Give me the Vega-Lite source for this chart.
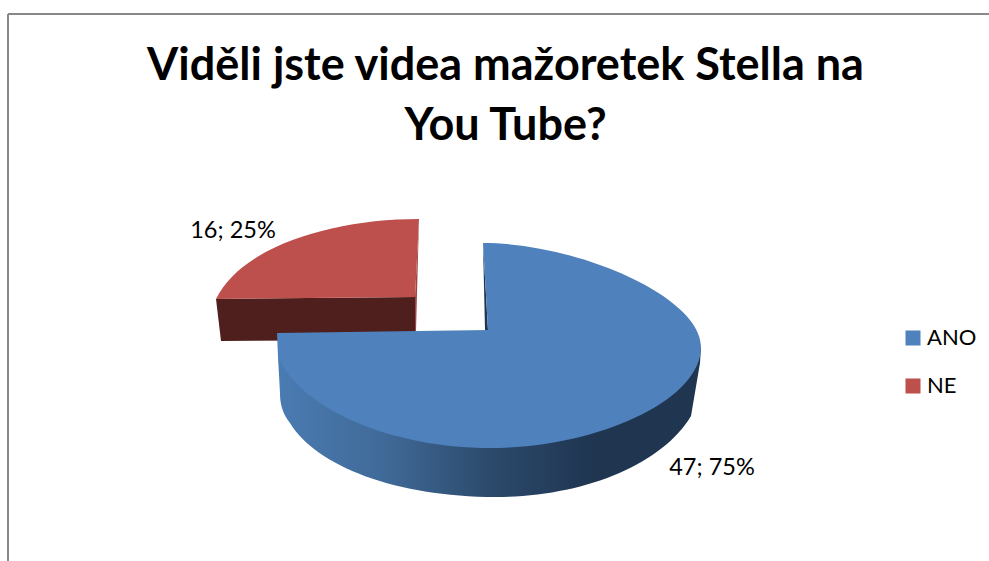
{
  "$schema": "https://vega.github.io/schema/vega-lite/v6.json",
  "width": 989,
  "height": 561,
  "padding": 0,
  "autosize": "none",
  "background": "white",
  "config": {"view": {"stroke": null}},
  "title": {
    "text": ["Viděli jste videa mažoretek Stella na", "You Tube?"],
    "font": "Lato", "fontSize": 45, "fontWeight": "bold", "color": "#000000",
    "lineHeight": 60, "anchor": "middle", "frame": "group", "baseline": "top",
    "offset": 0, "dx": 11, "dy": 149
  },
  "data": {"values": [
    {"odpoved": "ANO", "pocet": 47, "podil": 75, "popisek": "47; 75%"},
    {"odpoved": "NE", "pocet": 16, "podil": 25, "popisek": "16; 25%"}
  ]},
  "resolve": {"scale": {"x": "independent", "y": "independent"}},
  "layer": [
    {
      "data": {"values": [{}]},
      "mark": {"type": "rule", "stroke": "#898989", "strokeWidth": 2},
      "encoding": {"x": {"value": 8}, "x2": {"value": 989}, "y": {"value": 14}}
    },
    {
      "data": {"values": [{}]},
      "mark": {"type": "rule", "stroke": "#898989", "strokeWidth": 2},
      "encoding": {"x": {"value": 8}, "y": {"value": 14}, "y2": {"value": 561}}
    },
    {
      "encoding": {
        "x": {"field": "odpoved", "type": "nominal", "axis": null, "scale": {"type": "point", "domain": ["ANO", "NE"], "range": [486, 416], "padding": 0}},
        "y": {"field": "odpoved", "type": "nominal", "axis": null, "scale": {"type": "point", "domain": ["ANO", "NE"], "range": [331, 297], "padding": 0}}
      },
      "layer": [
        {
          "transform": [{"filter": "datum.odpoved === 'NE'"}],
          "mark": {"type": "point", "filled": true, "opacity": 1, "size": 40000, "strokeWidth": 0, "fill": "#4F1F1D",
            "shape": "M-2 0.02 L-0.01 0 L-0.01 0.43 L-1.95 0.44 Z"}
        },
        {
          "transform": [{"filter": "datum.odpoved === 'NE'"}],
          "mark": {"type": "point", "filled": true, "opacity": 1, "size": 40000, "strokeWidth": 0, "fill": "#A04543",
            "shape": "M0.03 -0.78 L0 0.34 L-0.01 0.34 L-0.01 0 Z"}
        },
        {
          "transform": [{"filter": "datum.odpoved === 'NE'"}],
          "mark": {"type": "point", "filled": true, "opacity": 1, "size": 40000, "strokeWidth": 0,
            "shape": "M-0.01 0 L0.03 -0.78 C-0.85 -0.78 -1.75 -0.5 -2 0.02 Z"},
          "encoding": {
            "color": {"field": "odpoved", "type": "nominal",
              "scale": {"domain": ["ANO", "NE"], "range": ["#4F81BD", "#BD4F4C"]},
              "legend": {"title": null, "orient": "none", "legendX": 902, "legendY": 327, "symbolType": "square", "symbolSize": 225,
                "labelFont": "Lato", "labelFontSize": 22, "labelColor": "#000000", "labelOffset": 3, "rowPadding": 26,
                "symbolStrokeWidth": 0, "symbolOpacity": 1}}
          }
        },
        {
          "transform": [{"filter": "datum.odpoved === 'ANO'"}],
          "mark": {"type": "point", "filled": true, "opacity": 1, "size": 40000, "strokeWidth": 0, "fill": "#1F3550",
            "shape": "M-0.03 -0.88 L0.02 -0.01 L-0.01 -0.01 Z"}
        },
        {
          "transform": [{"filter": "datum.odpoved === 'ANO'"}],
          "mark": {"type": "point", "filled": true, "opacity": 1, "size": 40000, "strokeWidth": 0,
            "fill": {"gradient": "linear", "x1": 0, "y1": 0, "x2": 1, "y2": 0, "stops": [
              {"offset": 0, "color": "#4A7BB2"},
              {"offset": 0.25, "color": "#406A98"},
              {"offset": 0.5, "color": "#2C4A6C"},
              {"offset": 0.75, "color": "#1F3550"},
              {"offset": 1, "color": "#1F3550"}
            ]},
            "shape": "M2.15 0.16 L2.14 0.32 L2.05 0.85 C1.75 1.35 0.95 1.66 0.1 1.66 C-0.9 1.66 -1.7 1.35 -1.96 0.92 C-2.04 0.82 -2.06 0.72 -2.06 0.62 L-2.08 0.26 Z"}
        },
        {
          "transform": [{"filter": "datum.odpoved === 'ANO'"}],
          "mark": {"type": "point", "filled": true, "opacity": 1, "size": 40000, "strokeWidth": 0,
            "shape": "M0.02 -0.01 L-0.03 -0.88 C0.9 -0.88 2.15 -0.35 2.15 0.16 C2.15 0.7 1.1 1.17 0.04 1.17 C-0.95 1.17 -1.85 0.78 -2.08 0.26 L-2.09 0.02 Z"},
          "encoding": {
            "color": {"field": "odpoved", "type": "nominal",
              "scale": {"domain": ["ANO", "NE"], "range": ["#4F81BD", "#BD4F4C"]}}
          }
        }
      ]
    },
    {
      "mark": {"type": "text", "font": "Lato", "fontSize": 23.5, "color": "#000000", "align": "center", "baseline": "middle"},
      "encoding": {
        "x": {"field": "odpoved", "type": "nominal", "axis": null, "scale": {"type": "point", "domain": ["ANO", "NE"], "range": [712, 233], "padding": 0}},
        "y": {"field": "odpoved", "type": "nominal", "axis": null, "scale": {"type": "point", "domain": ["ANO", "NE"], "range": [468, 231], "padding": 0}},
        "text": {"field": "popisek", "type": "nominal"}
      }
    }
  ]
}
